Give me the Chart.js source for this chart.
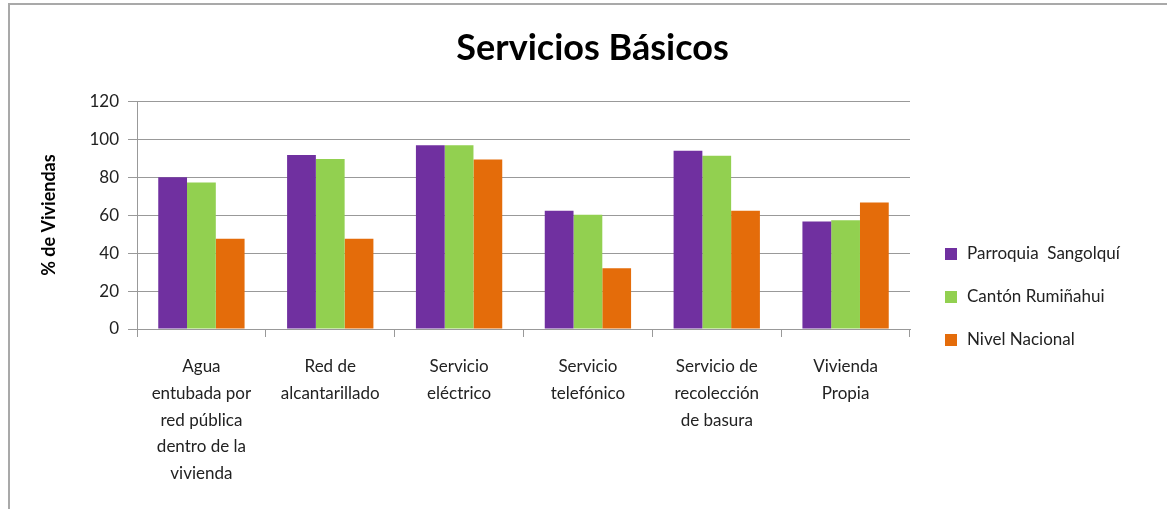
<!DOCTYPE html>
<html>
<head>
<meta charset="utf-8">
<script src="https://cdn.jsdelivr.net/npm/chart.js@4/dist/chart.umd.min.js"></script>
<style>
    body { margin: 0; background: #fff; }
    #wrap { position: relative; width: 1167px; height: 509px; }
    #frame {
        position: absolute; left: 8px; top: 3px; right: -10px; bottom: -10px;
        border-top: 2px solid #a9a9a9; border-left: 2px solid #a9a9a9;
        pointer-events: none;
    }
    #legend {
        position: absolute; left: 945px; top: 240px;
        font-family: Lato, "Open Sans", sans-serif; font-size: 17px; color: #222;
    }
    #legend div { height: 43px; line-height: 26px; white-space: pre; }
    #legend span.box {
        display: inline-block; width: 12px; height: 12px; margin-right: 10px;
        vertical-align: -1px;
    }
</style>
</head>
<body>
<div id="wrap">
    <canvas id="chart" width="1167" height="509"></canvas>
    <div id="frame"></div>
    <div id="legend"></div>
</div>
<script>
// categorías (etiquetas del eje x, en varias líneas)
const categories = [
    ['Agua', 'entubada por', 'red pública', 'dentro de la', 'vivienda'],
    ['Red de', 'alcantarillado'],
    ['Servicio', 'eléctrico'],
    ['Servicio', 'telefónico'],
    ['Servicio de', 'recolección', 'de basura'],
    ['Vivienda', 'Propia']
];

const seriesNames = ['Parroquia  Sangolquí', 'Cantón Rumiñahui', 'Nivel Nacional'];
const seriesColors = ['#7030a0', '#92d050', '#e46c0a'];

// % de viviendas
const sangolqui = [80, 91.6, 96.8, 62.3, 93.9, 56.6];
const rumiñahui = [77.2, 89.5, 96.8, 60.2, 91.2, 57.3];
const nacional = [47.6, 47.6, 89.3, 32.0, 62.3, 66.7];

const yTicks = [0, 20, 40, 60, 80, 100, 120];

const font = 'Lato, "Open Sans", sans-serif';

const allSeries = [sangolqui, rumiñahui, nacional];

new Chart(document.getElementById('chart'), {
    type: 'bar',
    data: {
        labels: categories,
        datasets: allSeries.map((values, i) => ({
            label: seriesNames[i],
            data: values,
            backgroundColor: seriesColors[i],
            borderWidth: 0,
            categoryPercentage: 0.67,
            barPercentage: 1.0
        }))
    },
    options: {
        responsive: false,
        animation: false,
        layout: { padding: { left: 18, right: 0, top: 0, bottom: 0 } },
        plugins: {
            legend: { display: false },
            tooltip: { enabled: false },
            title: {
                display: true,
                text: 'Servicios Básicos',
                color: '#000',
                font: { family: font, size: 36, weight: 'bold', lineHeight: 1.2 },
                padding: { top: 27, bottom: 31 }
            }
        },
        scales: {
            x: {
                grid: {
                    offset: true,
                    drawOnChartArea: false,
                    tickLength: 8,
                    color: '#999'
                },
                border: { color: '#999' },
                ticks: {
                    color: '#222',
                    padding: 16,
                    maxRotation: 0,
                    autoSkip: false,
                    font: { family: font, size: 17, lineHeight: 1.58 }
                },
                afterFit: s => { s.height = 180; }
            },
            y: {
                min: 0,
                max: 120,
                afterBuildTicks: s => { s.ticks = yTicks.map(v => ({ value: v })); },
                grid: { color: '#999', tickLength: 9 },
                border: { color: '#999' },
                ticks: {
                    color: '#222',
                    padding: 9,
                    font: { family: font, size: 17 }
                },
                title: {
                    display: true,
                    text: '% de Viviendas',
                    color: '#000',
                    font: { family: font, size: 18, weight: 'bold' },
                    padding: { top: 20, bottom: 0 }
                },
                afterFit: s => { s.width = 119; }
            },
            // eje vacío a la derecha: reserva el espacio de la leyenda
            legendSpace: {
                position: 'right',
                display: true,
                grid: { display: false },
                border: { display: false },
                ticks: { display: false },
                afterFit: s => { s.width = 257; }
            }
        }
    }
});

// leyenda en HTML, a partir de los nombres y colores de las series
const legendEl = document.getElementById('legend');
seriesNames.forEach((name, i) => {
    const row = document.createElement('div');
    const box = document.createElement('span');
    box.className = 'box';
    box.style.background = seriesColors[i];
    row.appendChild(box);
    row.appendChild(document.createTextNode(name));
    legendEl.appendChild(row);
});
</script>
</body>
</html>
